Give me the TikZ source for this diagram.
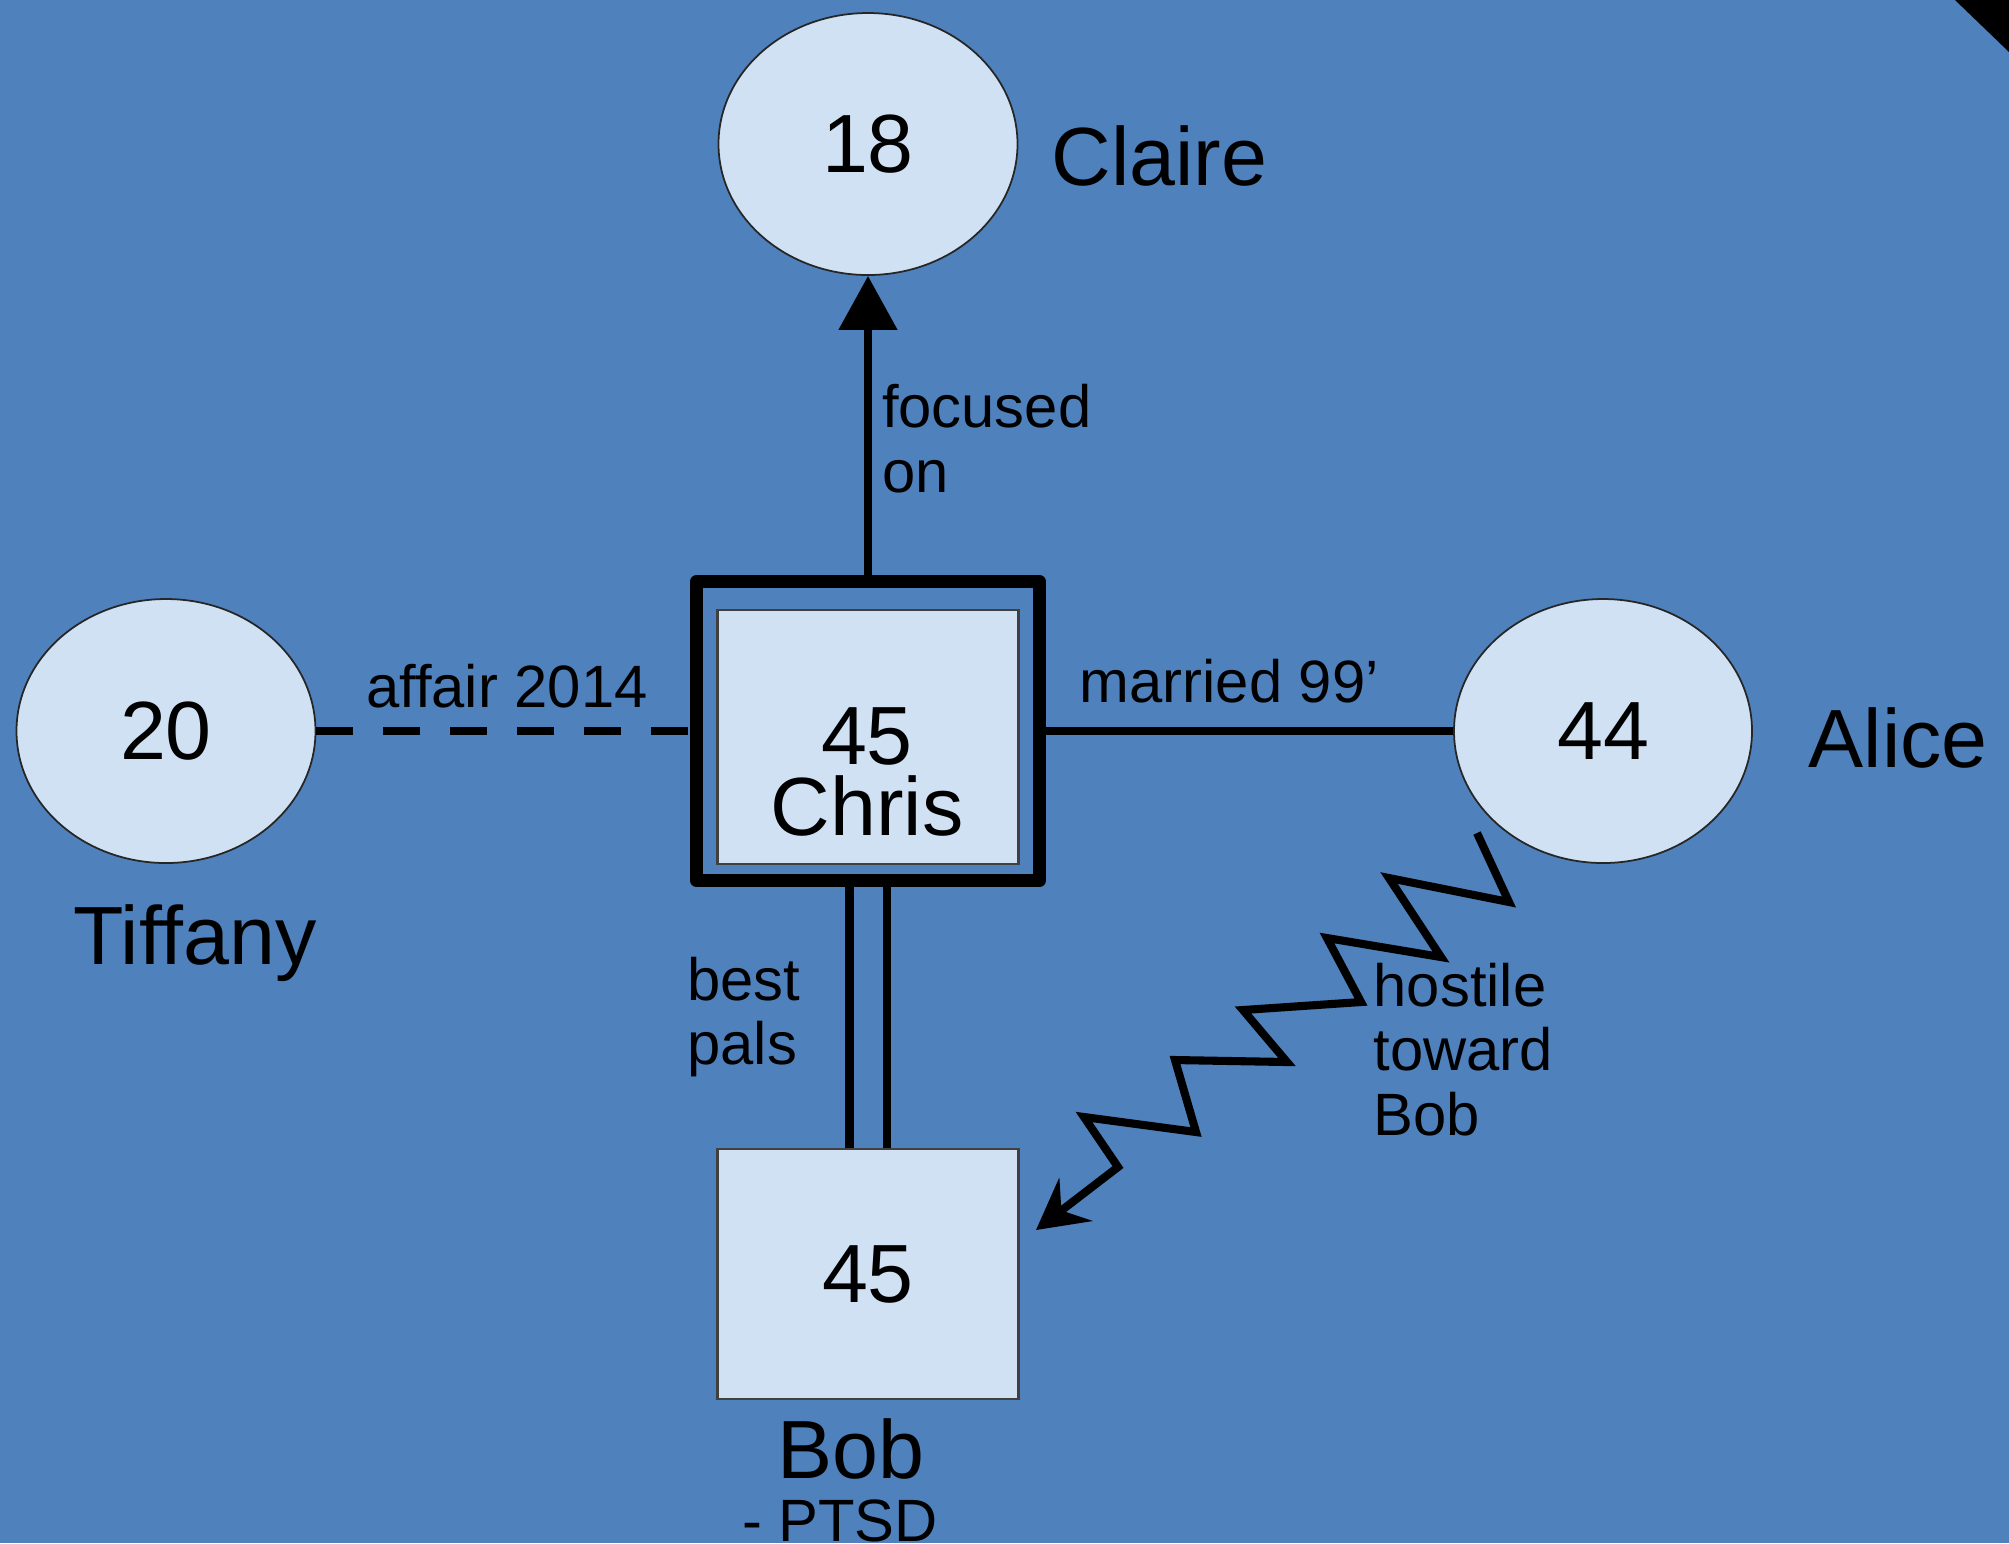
\documentclass[tikz,border=0pt]{standalone}
\usepackage{fontspec}
\setmainfont{Liberation Sans}
\usetikzlibrary{arrows.meta,shapes.geometric}
\definecolor{bgblue}{RGB}{79,129,189}
\definecolor{nodefill}{RGB}{207,225,242}
\begin{document}
\begin{tikzpicture}[
      female/.style={
        ellipse, draw=black!85, line width=0.5pt, fill=nodefill,
        inner sep=0pt, font=\fontsize{23.5}{28}\selectfont
      },
      male/.style={
        rectangle, draw=black!75, line width=0.7pt, fill=nodefill,
        inner sep=0pt, font=\fontsize{23.5}{28}\selectfont
      },
      indexbox/.style={
        rectangle, draw=black, line width=3.7pt, line join=round
      },
      ef/.style={-{Triangle[length=5.4mm, width=5.7mm]}, line width=2.3pt}, % focused on
      ea/.style={line width=2.3pt, dash pattern=on 3.7mm off 3mm},         % affair
      em/.style={line width=2.3pt},                                        % married
      ep/.style={line width=2.3pt, double=bgblue, double distance=2.9mm},  % best pals
      eh/.style={-{Stealth[length=5mm, width=5.4mm, inset=1.8mm]},
                 line width=2.3pt},                                        % hostile
      lblstyle/.style={font=\fontsize{17}{18.4}\selectfont, inner sep=0pt, align=left},
      who/.style={font=\fontsize{23.5}{28}\selectfont, inner sep=0pt}
    ]
    % Canvas and the corner of the slide.
    \useasboundingbox (0,0) rectangle (20.09,-15.43);
    \fill[bgblue] (0,0) rectangle (20.09,-15.43);
    \fill[black] (19.55,0) -- (20.09,0) -- (20.09,-0.52) -- cycle;

    % Chris in the middle, the others around him.
    \node[indexbox, minimum width=3.43cm, minimum height=2.99cm] (chrisframe) at (8.68,-7.31) {};
    \node[male, minimum width=3.01cm, minimum height=2.54cm]     (Chris)      at (8.68,-7.37) {};
    \node[who, align=center, font=\fontsize{23.5}{20}\selectfont] (chrislbl) at (8.67,-7.72) {45\\Chris};

    \node[female, minimum width=2.99cm, minimum height=2.62cm] (Claire)  at (8.68,-1.44)  {18};
    \node[female, minimum width=2.99cm, minimum height=2.64cm] (Tiffany) at (1.66,-7.31)  {20};
    \node[female, minimum width=2.98cm, minimum height=2.64cm] (Alice)   at (16.03,-7.31) {44};
    \node[male,   minimum width=3.01cm, minimum height=2.50cm] (Bob)     at (8.68,-12.74) {45};

    % Names beside the symbols.
    \node[who, anchor=base west] (clairename)  at (10.51,-1.85) {Claire};
    \node[who, anchor=base]      (tiffanyname) at (1.95,-9.64)  {Tiffany};
    \node[who, anchor=base west] (alicename)   at (18.08,-7.67) {Alice};
    \node[who, anchor=base]      (bobname)     at (8.51,-14.78) {Bob};
    \node[lblstyle, anchor=base] (bobnote)     at (8.40,-15.41) {- PTSD};

    % Relations.
    \draw[ef] (chrisframe) -- node[lblstyle, right=1mm, pos=0.455]  {focused\\on}  (Claire);
    \draw[ea] (Tiffany)    -- node[lblstyle, above=1.9mm, pos=0.51] {affair 2014}  (chrisframe);
    \draw[em] (chrisframe) -- node[lblstyle, above=2.4mm, pos=0.45] {married 99'}  (Alice);
    \draw[ep] (chrisframe) -- node[lblstyle, left=6.35mm, pos=0.498] {best\\pals}  (Bob);

    \coordinate (hzs) at (14.77,-8.33);
    \coordinate (hze) at (10.36,-12.30);
    \draw[eh] (hzs) -- (15.09,-9.02) -- (13.89,-8.78) -- (14.41,-9.57)
      -- (13.27,-9.38) -- (13.61,-10.02) -- (12.43,-10.10) -- (12.87,-10.62)
      -- (11.75,-10.60) -- (11.96,-11.32) -- (10.84,-11.17) -- (11.18,-11.67) -- (hze);
    \node[lblstyle, anchor=north west] (hostilelbl) at (13.73,-9.62) {hostile\\toward\\Bob};
  \end{tikzpicture}
\end{document}
